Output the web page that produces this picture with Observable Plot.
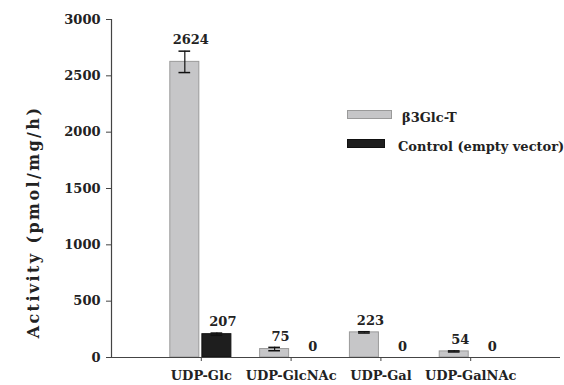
<!DOCTYPE html>
<html>
<head>
<meta charset="utf-8">
<script src="https://cdn.jsdelivr.net/npm/d3@7"></script>
<script src="https://cdn.jsdelivr.net/npm/@observablehq/plot@0.6"></script>
<style>
  body { margin: 0; background: #fff; }
  #wrap { position: relative; width: 564px; height: 385px; font-family: "DejaVu Serif", serif; font-weight: bold; color: #222; }
  .ylab { position: absolute; left: 33px; top: 222px; transform: translate(-50%, -50%) rotate(-90deg); white-space: nowrap; font-size: 16px; letter-spacing: 2.4px; }
  .leg { position: absolute; font-size: 13px; white-space: nowrap; line-height: 1; }
  .sw { position: absolute; box-sizing: border-box; }
</style>
</head>
<body>
<div id="wrap"></div>
<script>
const categories = ["UDP-Glc", "UDP-GlcNAc", "UDP-Gal", "UDP-GalNAc"];
const seriesNames = ["β3Glc-T", "Control (empty vector)"];
const glcTValues = [2624, 75, 223, 54];
const glcTErrors = [95, 15, 6, 5];
const controlValues = [207, 0, 0, 0];
const controlErrors = [10, 0, 0, 0];
const yTicks = [0, 500, 1000, 1500, 2000, 2500, 3000];
const seriesColors = ["#c6c6c8", "#1e1e1e"];
const seriesStrokes = ["#9a9a9a", "#111"];

const rows = [];
categories.forEach((cat, i) => {
  [glcTValues, controlValues].forEach((vals, s) => {
    const errs = s === 0 ? glcTErrors : controlErrors;
    const c = i + 1;
    const x1 = s === 0 ? c - 0.345 : c + 0.012;
    const x2 = s === 0 ? c - 0.022 : c + 0.335;
    rows.push({cat, series: seriesNames[s], s, value: vals[i], err: errs[i], x1, x2, xc: (x1 + x2) / 2});
  });
});
const bars = rows.filter(d => d.value > 0);

const plot = Plot.plot({
  width: 564,
  height: 385,
  marginLeft: 111,
  marginRight: 4,
  marginTop: 19,
  marginBottom: 28,
  style: {fontFamily: "DejaVu Serif, serif", fontSize: "13px", fontWeight: "bold", color: "#222", background: "#fff"},
  x: {domain: [0, 5]},
  y: {domain: [0, 3000]},
  marks: [
    Plot.rectY(bars, {x1: "x1", x2: "x2", y1: 0, y2: "value", fill: d => seriesColors[d.s], stroke: d => seriesStrokes[d.s], strokeWidth: 1}),
    Plot.ruleX(bars, {x: "xc", y1: d => d.value - d.err, y2: d => d.value + d.err, stroke: "#111", strokeWidth: 1.2}),
    Plot.ruleY(bars, {y: d => d.value + d.err, x1: d => d.xc - 0.065, x2: d => d.xc + 0.065, stroke: "#111", strokeWidth: 1.5}),
    Plot.ruleY(bars, {y: d => d.value - d.err, x1: d => d.xc - 0.065, x2: d => d.xc + 0.065, stroke: "#111", strokeWidth: 1.5}),
    Plot.text(rows, {x: "xc", y: d => d.value + d.err, text: d => String(d.value), dy: -11, dx: 6, fill: "#222", fontWeight: "bold", fontSize: 13}),
    Plot.ruleY([0], {stroke: "#444", strokeWidth: 1.2}),
    Plot.ruleX([0], {stroke: "#444", strokeWidth: 1.2}),
    Plot.axisY({ticks: yTicks, tickFormat: d => String(d), tickSize: 5, tickPadding: 6, label: null, stroke: "#444"}),
    Plot.axisX({ticks: [1, 2, 3, 4], tickFormat: d => categories[d - 1], tickSize: 4, tickPadding: 9, label: null, stroke: "#444"})
  ]
});

const wrap = document.getElementById("wrap");
wrap.appendChild(plot);

const ylab = document.createElement("div");
ylab.className = "ylab";
ylab.textContent = "Activity (pmol/mg/h)";
wrap.appendChild(ylab);

const legItems = [
  {sw: {left: 347, top: 110, width: 45, height: 9}, text: {left: 402, top: 111}},
  {sw: {left: 347, top: 139, width: 38, height: 9}, text: {left: 398, top: 140}}
];
seriesNames.forEach((name, s) => {
  const it = legItems[s];
  const sw = document.createElement("div");
  sw.className = "sw";
  Object.assign(sw.style, {left: it.sw.left + "px", top: it.sw.top + "px", width: it.sw.width + "px", height: it.sw.height + "px", background: seriesColors[s], border: "1px solid " + seriesStrokes[s]});
  wrap.appendChild(sw);
  const t = document.createElement("div");
  t.className = "leg";
  t.style.left = it.text.left + "px";
  t.style.top = it.text.top + "px";
  t.textContent = name;
  wrap.appendChild(t);
});
</script>
</body>
</html>
